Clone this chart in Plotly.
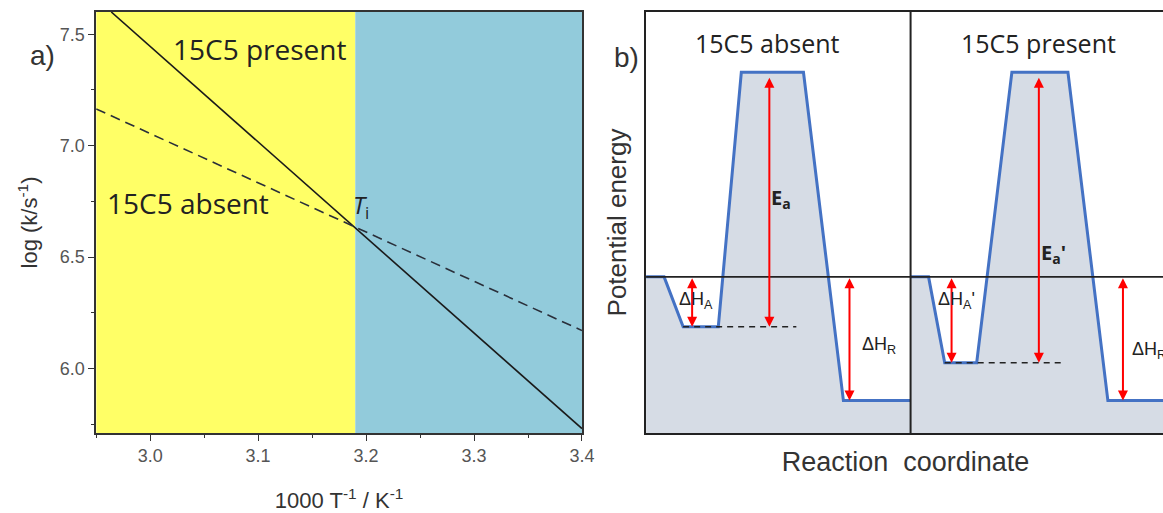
import plotly.graph_objects as go

# ---------------- Panel a data ----------------
inv_T_present = [2.964, 3.40]
logk_present = [7.60, 5.73]
inv_T_absent = [2.95, 3.40]
logk_absent = [7.165, 6.17]
T_i = 3.19
x_range_a = [2.95, 3.40]
y_range_a = [5.71, 7.60]
x_ticks_a = [3.0, 3.1, 3.2, 3.3, 3.4]
y_ticks_a = [6.0, 6.5, 7.0, 7.5]

# ---------------- Panel b data (schematic energy profiles) ----------------
coord_absent = [0, 0.68, 1.40, 2.73, 3.60, 5.95, 7.46, 10.0]
energy_absent = [0, 0, -5.0, -5.0, 20.5, 20.5, -12.4, -12.4]
coord_present = [10.0, 10.68, 11.29, 12.5, 13.83, 15.95, 17.46, 20.0]
energy_present = [0, 0, -8.6, -8.6, 20.5, 20.5, -12.4, -12.4]
x_range_b = [0, 19.62]
y_range_b = [-15.65, 26.55]
divider_b = 10.0

arrow_x = [1.74, 4.66, 7.69, 11.55, 14.85, 18.03]
arrow_lo = [-5.0, -5.0, -12.4, -8.6, -8.6, -12.4]
arrow_hi = [0, 20.1, 0, 0, 20.1, 0]
dash_x0 = [1.40, 11.29]
dash_x1 = [5.68, 15.83]
dash_e = [-5.0, -8.6]
label_text = ["ΔH<sub>A</sub>", "<b>E<sub>a</sub></b>", "ΔH<sub>R</sub>",
              "ΔH<sub>A</sub>'", "<b>E<sub>a</sub>'</b>", "ΔH<sub>R</sub>"]
label_x = [1.89, 5.11, 8.79, 11.74, 15.42, 19.0]
label_y = [-2.35, 7.85, -6.85, -2.35, 2.35, -7.35]
panel_titles = ["15C5 absent", "15C5 present"]
panel_title_x = [4.58, 14.85]

REF_W, H = 1163, 513
W = 1178   # the page capture squeezes horizontally by ~1163/1178
def px_x(p): return p / REF_W
def px_y(p): return 1 - p / H

YELLOW = "rgb(255,255,102)"
BLUE = "rgb(146,203,219)"
FILL = "rgb(214,220,229)"
PROFILE = "rgb(68,114,196)"
RED = "rgb(255,0,0)"
SANS = "Liberation Sans, Arial, sans-serif"
CAL = "Open Sans, sans-serif"

fig = go.Figure()

# Panel a lines
fig.add_trace(go.Scatter(x=inv_T_present, y=logk_present, mode="lines",
                         line=dict(color="#1a1a1a", width=1.6),
                         xaxis="x", yaxis="y", showlegend=False))
fig.add_trace(go.Scatter(x=inv_T_absent, y=logk_absent, mode="lines",
                         line=dict(color="#2a2f3a", width=1.6, dash="10px,6px"),
                         xaxis="x", yaxis="y", showlegend=False))

# Panel b fills and profiles
for cx, ey in [(coord_absent, energy_absent), (coord_present, energy_present)]:
    fig.add_trace(go.Scatter(x=cx + [cx[-1], cx[0]],
                             y=ey + [y_range_b[0], y_range_b[0]],
                             fill="toself", fillcolor=FILL, mode="lines",
                             line=dict(width=0), xaxis="x2", yaxis="y2",
                             showlegend=False, hoverinfo="skip"))
for cx, ey in [(coord_absent, energy_absent), (coord_present, energy_present)]:
    fig.add_trace(go.Scatter(x=cx, y=ey, mode="lines",
                             line=dict(color=PROFILE, width=3),
                             xaxis="x2", yaxis="y2", showlegend=False))
# dashed well levels
for x0, x1, e in zip(dash_x0, dash_x1, dash_e):
    fig.add_trace(go.Scatter(x=[x0, x1], y=[e, e], mode="lines",
                             line=dict(color="#222", width=1.5, dash="6px,5px"),
                             xaxis="x2", yaxis="y2", showlegend=False))

shapes = [
    dict(type="rect", xref="x", yref="y domain", x0=x_range_a[0], x1=T_i, y0=0, y1=1,
         fillcolor=YELLOW, line=dict(width=0), layer="below"),
    dict(type="rect", xref="x", yref="y domain", x0=T_i, x1=x_range_a[1], y0=0, y1=1,
         fillcolor=BLUE, line=dict(width=0), layer="below"),
    dict(type="line", xref="x2", yref="y2", x0=x_range_b[0], x1=20, y0=0, y1=0,
         line=dict(color="#222", width=1.8), layer="above"),
    dict(type="line", xref="x2", yref="y2 domain", x0=divider_b, x1=divider_b, y0=0, y1=1,
         line=dict(color="#222", width=2), layer="above"),
]

annotations = []
# arrows
for x, lo, hi in zip(arrow_x, arrow_lo, arrow_hi):
    annotations.append(dict(x=x, y=lo, ax=x, ay=hi, xref="x2", yref="y2",
                            axref="x2", ayref="y2", text="", showarrow=True,
                            arrowhead=2, arrowside="end+start", arrowsize=1,
                            arrowwidth=2, arrowcolor=RED, standoff=0, startstandoff=0))
for t, x, y in zip(label_text, label_x, label_y):
    bold = t.startswith("<b>")
    annotations.append(dict(x=x, y=y, xref="x2", yref="y2", text=t, showarrow=False,
                            font=dict(family=CAL if bold else SANS, size=20 if bold else 18,
                                      color="#222")))
for t, x in zip(panel_titles, panel_title_x):
    annotations.append(dict(x=x, y=23.45, xref="x2", yref="y2", text=t, showarrow=False,
                            font=dict(family=CAL, size=25, color="#222")))
# panel a labels
annotations += [
    dict(x=3.101, y=7.433, xref="x", yref="y", text="15C5 present", showarrow=False,
         font=dict(family=CAL, size=28, color="#222")),
    dict(x=3.035, y=6.741, xref="x", yref="y", text="15C5 absent", showarrow=False,
         font=dict(family=CAL, size=28, color="#222")),
    dict(x=3.195, y=6.73, xref="x", yref="y", text="<i>T</i><sub>i</sub>", showarrow=False,
         font=dict(family=CAL, size=24, color="#222")),
    dict(x=px_x(28), y=px_y(38), xref="paper", yref="paper", text="a)", showarrow=False,
         font=dict(family=SANS, size=28, color="#333")),
    dict(x=px_x(625), y=px_y(40), xref="paper", yref="paper", text="b)", showarrow=False,
         font=dict(family=SANS, size=28, color="#333")),
]

dom_y = [px_y(433), px_y(12)]
fig.update_layout(
    width=W, height=H, autosize=False, margin=dict(l=0, r=0, t=0, b=0),
    paper_bgcolor="white", plot_bgcolor="white",
    shapes=shapes, annotations=annotations, showlegend=False,
    xaxis=dict(domain=[px_x(96), px_x(581)], range=x_range_a, tickvals=x_ticks_a,
               ticktext=[f"{v:.1f}" for v in x_ticks_a],
               showline=True, mirror=True, linecolor="#333", linewidth=1.5,
               ticks="outside", ticklen=6, tickcolor="#333", showgrid=False, zeroline=False,
               minor=dict(dtick=0.05, ticks="outside", ticklen=3, tickcolor="#333"),
               tickfont=dict(family=SANS, size=18, color="#555"),
               title=dict(text="1000 T<sup>-1</sup> / K<sup>-1</sup>", standoff=27,
                          font=dict(family=SANS, size=22, color="#333")),
               anchor="y"),
    yaxis=dict(domain=dom_y, range=y_range_a, tickvals=y_ticks_a,
               ticktext=[f"{v:.1f}" for v in y_ticks_a],
               showline=True, mirror=True, linecolor="#333", linewidth=1.5,
               ticks="outside", ticklen=6, tickcolor="#333", showgrid=False, zeroline=False,
               minor=dict(dtick=0.25, ticks="outside", ticklen=3, tickcolor="#333"),
               tickfont=dict(family=SANS, size=18, color="#555"),
               title=dict(text="log (k/s<sup>-1</sup>)", standoff=16,
                          font=dict(family=SANS, size=22, color="#333")),
               anchor="x"),
    xaxis2=dict(domain=[px_x(645), px_x(REF_W)], range=x_range_b, showticklabels=False,
                ticks="", showgrid=False, zeroline=False, showline=True, mirror=True,
                linecolor="#222", linewidth=2,
                title=dict(text="Reaction  coordinate", standoff=18,
                           font=dict(family=SANS, size=27, color="#333")),
                anchor="y2"),
    yaxis2=dict(domain=dom_y, range=y_range_b, showticklabels=False, ticks="",
                showgrid=False, zeroline=False, showline=True, mirror=False,
                linecolor="#222", linewidth=2,
                title=dict(text="Potential energy", standoff=10,
                           font=dict(family=SANS, size=26, color="#333")),
                anchor="x2"),
)

fig.write_html("out.html",
               config={"responsive": False, "displayModeBar": False},
               post_script="document.body.style.margin='0';document.body.style.overflow='hidden';")
